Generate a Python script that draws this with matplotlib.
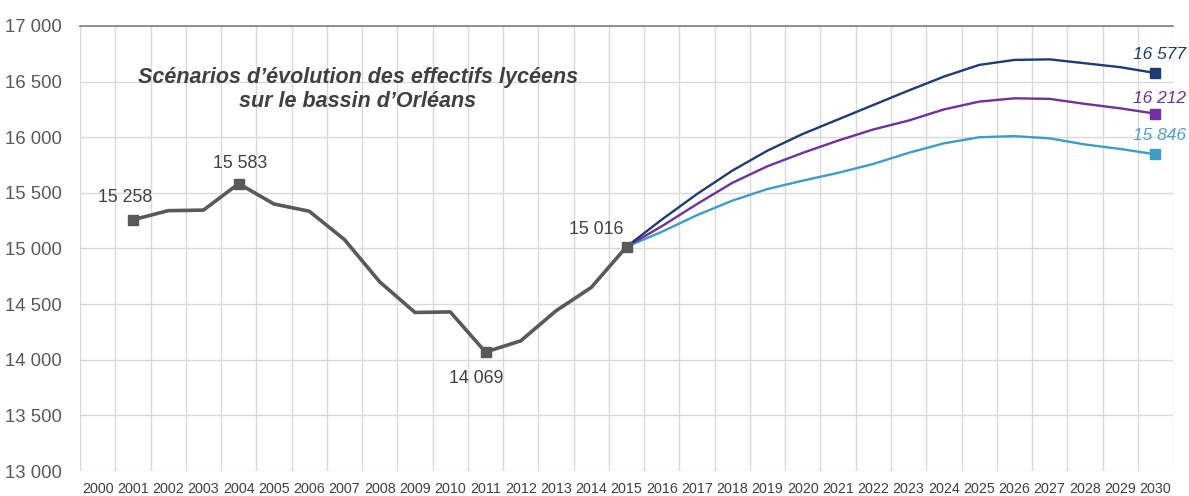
import numpy as np
import matplotlib
import matplotlib.pyplot as plt

matplotlib.use('Agg')
plt.rcParams['font.family'] = ['Liberation Sans', 'DejaVu Sans']

years = list(range(2000, 2031))

# effectifs constatés 2001-2015
hist_years = list(range(2001, 2016))
hist_values = [15258, 15340, 15345, 15583, 15400, 15335, 15080, 14700,
               14425, 14430, 14069, 14170, 14440, 14650, 15016]

# projections 2015-2030, trois scénarios
proj_years = list(range(2015, 2031))
high_values = [15016, 15260, 15490, 15700, 15880, 16030, 16160, 16290,
               16420, 16545, 16650, 16695, 16700, 16665, 16630, 16577]
mid_values = [15016, 15200, 15400, 15590, 15740, 15860, 15970, 16070,
              16150, 16250, 16320, 16350, 16345, 16300, 16260, 16212]
low_values = [15016, 15150, 15300, 15430, 15535, 15610, 15680, 15760,
              15860, 15945, 16000, 16010, 15990, 15935, 15895, 15846]

labelled_years = [2001, 2004, 2011, 2015]

GREY = '#595959'
NAVY = '#1f3b73'
PURPLE = '#7030a0'
LIGHT = '#3d9cc9'


def pos(y):
    return years.index(y)


fig = plt.figure(figsize=(11.89, 4.96), dpi=100)
ax = fig.add_axes([0.0673, 0.0504, 0.9193, 0.8972])

hx = [pos(y) for y in hist_years]
ax.plot(hx, hist_values, color=GREY, lw=2.6, solid_joinstyle='round', zorder=3)
mx = [pos(y) for y in labelled_years]
my = [hist_values[hist_years.index(y)] for y in labelled_years]
ax.plot(mx, my, 's', color=GREY, ms=7.5, zorder=4)

px = [pos(y) for y in proj_years]
for vals, col in [(low_values, LIGHT), (mid_values, PURPLE), (high_values, NAVY)]:
    ax.plot(px, vals, color=col, lw=1.7, solid_joinstyle='round', zorder=2)
    ax.plot(px[-1], vals[-1], 's', color=col, ms=7, zorder=4)


def fmt(v):
    return f'{v:,}'.replace(',', ' ')


# étiquettes des points remarquables
offsets = {2001: (-8, 22), 2004: (1, 20), 2011: (-9, -26), 2015: (-30, 17)}
for y, v in zip(labelled_years, my):
    dx, dy = offsets[y]
    ax.annotate(fmt(v), (pos(y), v), xytext=(dx, dy), textcoords='offset pixels',
                ha='center', va='center', fontsize=12.8, color='#404040')

end_offsets = [(high_values, NAVY, 19), (mid_values, PURPLE, 15), (low_values, '#4f9fd0', 19)]
for vals, col, dy in end_offsets:
    ax.annotate(fmt(vals[-1]), (px[-1], vals[-1]), xytext=(4, dy), textcoords='offset pixels',
                ha='center', va='center', fontsize=12.5, style='italic', color=col)

ax.text(7.38, 16430, "Scénarios d’évolution des effectifs lycéens\nsur le bassin d’Orléans",
        ha='center', va='center', fontsize=15.5, fontweight='bold', style='italic',
        color='#404040', linespacing=1.15)

ax.set_xlim(-0.5, len(years) - 0.5)
ax.set_ylim(13000, 17000)
ax.set_xticks(range(len(years)))
ax.set_xticklabels([str(y) for y in years])
ax.set_xticks(np.arange(-0.5, len(years), 1), minor=True)
ax.set_yticks(np.arange(13000, 17001, 500))
ax.set_yticklabels([fmt(v) for v in range(13000, 17001, 500)])
ax.tick_params(axis='x', which='both', length=0, labelsize=10.3, colors='#404040', pad=8)
ax.tick_params(axis='y', length=0, labelsize=13.3, colors='#595959', pad=13)

ax.grid(axis='x', which='minor', color='#d9d9d9', lw=1)
ax.grid(axis='y', which='major', color='#d9d9d9', lw=1)
ax.set_axisbelow(True)
for side in ['left', 'right', 'bottom']:
    ax.spines[side].set_visible(False)
ax.spines['top'].set_color('#7f7f7f')
ax.spines['top'].set_linewidth(1.2)

plt.savefig('out.png', dpi=100)
plt.close()
